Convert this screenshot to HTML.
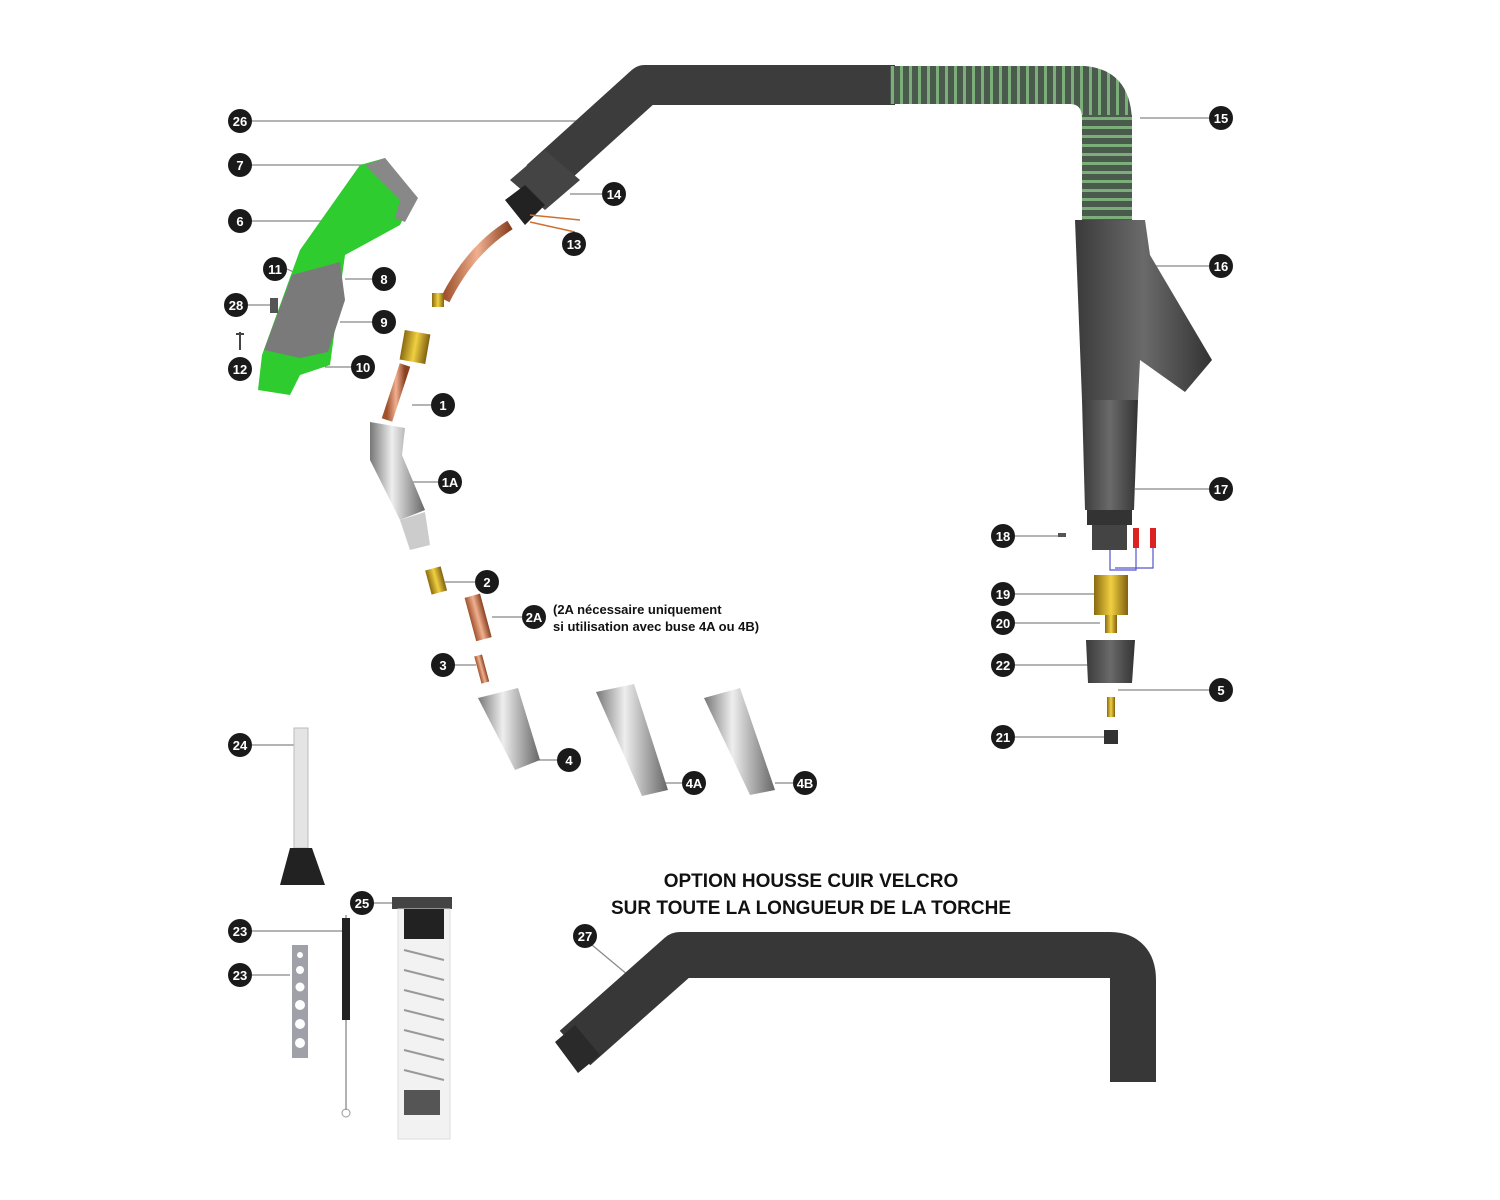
<!DOCTYPE html>
<html><head><meta charset="utf-8"><style>
html,body{margin:0;padding:0;background:#fff;}
svg{display:block;}
.b circle{fill:#1a1a1a;}
.b text{fill:#fff;font-family:"Liberation Sans",sans-serif;font-weight:bold;font-size:13px;text-anchor:middle;}
.l{stroke:#888;stroke-width:1.2;fill:none;}
</style></head><body>
<svg width="1500" height="1200" viewBox="0 0 1500 1200" xmlns="http://www.w3.org/2000/svg">
<defs>
<linearGradient id="met" x1="0" x2="1"><stop offset="0" stop-color="#777"/><stop offset=".4" stop-color="#eee"/><stop offset="1" stop-color="#666"/></linearGradient>
<linearGradient id="cop" x1="0" x2="1"><stop offset="0" stop-color="#a0522d"/><stop offset=".5" stop-color="#f0b090"/><stop offset="1" stop-color="#8a4020"/></linearGradient>
<linearGradient id="brass" x1="0" x2="1"><stop offset="0" stop-color="#8a6a10"/><stop offset=".5" stop-color="#f0d040"/><stop offset="1" stop-color="#806010"/></linearGradient>
<linearGradient id="gry" x1="0" x2="1"><stop offset="0" stop-color="#3a3a3a"/><stop offset=".5" stop-color="#6a6a6a"/><stop offset="1" stop-color="#333"/></linearGradient>
<pattern id="corr" width="9" height="9" patternUnits="userSpaceOnUse"><rect width="9" height="9" fill="#4a5a4c"/><rect width="3" height="9" fill="#7cae7a"/></pattern>
<pattern id="corrv" width="9" height="9" patternUnits="userSpaceOnUse"><rect width="9" height="9" fill="#4a5a4c"/><rect width="9" height="3" fill="#7cae7a"/></pattern>
</defs>

<g class="l">
<line x1="252" y1="121" x2="585" y2="121"/><line x1="252" y1="165" x2="370" y2="165"/>
<line x1="252" y1="221" x2="330" y2="221"/><line x1="287" y1="269" x2="300" y2="275"/>
<line x1="372" y1="279" x2="345" y2="279"/><line x1="248" y1="305" x2="272" y2="305"/>
<line x1="372" y1="322" x2="340" y2="322"/><line x1="351" y1="367" x2="325" y2="367"/>
<line x1="431" y1="405" x2="412" y2="405"/><line x1="438" y1="482" x2="405" y2="482"/>
<line x1="475" y1="582" x2="445" y2="582"/><line x1="522" y1="617" x2="492" y2="617"/>
<line x1="455" y1="665" x2="476" y2="665"/><line x1="557" y1="760" x2="538" y2="760"/>
<line x1="682" y1="783" x2="665" y2="783"/><line x1="793" y1="783" x2="775" y2="783"/>
<line x1="602" y1="194" x2="570" y2="194"/>
<line x1="1209" y1="118" x2="1140" y2="118"/><line x1="1209" y1="266" x2="1150" y2="266"/>
<line x1="1209" y1="489" x2="1135" y2="489"/><line x1="1015" y1="536" x2="1065" y2="536"/>
<line x1="1015" y1="594" x2="1095" y2="594"/><line x1="1015" y1="623" x2="1100" y2="623"/>
<line x1="1015" y1="665" x2="1088" y2="665"/><line x1="1209" y1="690" x2="1118" y2="690"/>
<line x1="1015" y1="737" x2="1105" y2="737"/><line x1="252" y1="745" x2="295" y2="745"/>
<line x1="374" y1="903" x2="395" y2="903"/><line x1="252" y1="931" x2="345" y2="931"/>
<line x1="252" y1="975" x2="290" y2="975"/><line x1="592" y1="945" x2="628" y2="975"/>
</g>

<path d="M540 180 L645 85 L895 85" fill="none" stroke="#3c3c3c" stroke-width="40" stroke-linejoin="round"/>
<path d="M890 66 L1085 66 Q1130 70 1132 120 L1132 220 L1082 220 L1082 118 Q1082 104 1070 104 L890 104 Z" fill="url(#corr)"/>
<rect x="1082" y="115" width="50" height="105" fill="url(#corrv)"/>
<path d="M510 180 L545 150 L580 180 L545 210 Z" fill="#444"/>
<path d="M505 200 L525 185 L545 205 L525 225 Z" fill="#222"/>
<path d="M530 215 L580 220 M530 222 L575 232" stroke="#d07030" stroke-width="1.5" fill="none"/>
<path d="M510 225 Q470 250 445 300" stroke="url(#cop)" stroke-width="10" fill="none"/>
<rect x="432" y="293" width="12" height="14" fill="url(#brass)"/>

<path d="M1075 220 L1145 220 L1150 255 L1212 360 L1185 392 L1140 360 L1138 400 L1082 400 Z" fill="url(#gry)"/>
<path d="M1082 400 L1138 400 L1134 510 L1085 510 Z" fill="url(#gry)"/>
<rect x="1087" y="510" width="45" height="15" fill="#333"/>
<rect x="1092" y="525" width="35" height="25" fill="#444"/>
<rect x="1133" y="528" width="6" height="20" fill="#d22"/><rect x="1150" y="528" width="6" height="20" fill="#d22"/>
<path d="M1110 550 L1110 570 L1136 570 L1136 548 M1115 568 L1153 568 L1153 548" stroke="#55c" stroke-width="1.2" fill="none"/>
<rect x="1094" y="575" width="34" height="40" fill="url(#brass)"/>
<rect x="1105" y="615" width="12" height="18" fill="url(#brass)"/>
<path d="M1086 640 L1135 640 L1132 683 L1088 683 Z" fill="url(#gry)"/>
<rect x="1107" y="697" width="8" height="20" fill="url(#brass)"/>
<rect x="1104" y="730" width="14" height="14" fill="#333"/>
<rect x="1058" y="533" width="8" height="4" fill="#555"/>

<path d="M360 165 L385 158 L415 195 L400 225 L345 255 L330 365 L300 375 L290 395 L258 390 L262 355 L300 250 Z" fill="#2ecc2e"/>
<path d="M365 165 L385 158 L418 198 L405 222 L395 218 L400 200 Z" fill="#888"/>
<path d="M292 275 L340 262 L345 300 L328 352 L300 358 L264 350 Z" fill="#7a7a7a"/>
<rect x="270" y="298" width="8" height="15" fill="#555"/>
<path d="M240 332 L240 350 M236 334 L244 334" stroke="#444" stroke-width="2"/>

<rect x="402" y="332" width="26" height="30" fill="url(#brass)" transform="rotate(10 415 347)"/>
<path d="M405 365 L387 420" stroke="url(#cop)" stroke-width="11" fill="none"/>
<path d="M370 422 L405 428 L402 455 L425 510 L400 520 L370 460 Z" fill="url(#met)"/>
<path d="M400 520 L425 512 L430 545 L410 550 Z" fill="#ccc"/>
<rect x="428" y="568" width="16" height="25" fill="url(#brass)" transform="rotate(-15 436 580)"/>
<rect x="470" y="595" width="16" height="45" fill="url(#cop)" transform="rotate(-15 478 617)"/>
<rect x="478" y="655" width="8" height="28" fill="url(#cop)" transform="rotate(-15 482 670)"/>
<g fill="url(#met)">
<path d="M478 698 L518 688 L540 760 L515 770 Z"/>
<path d="M596 692 L634 684 L668 790 L642 796 Z"/>
<path d="M704 698 L740 688 L775 790 L750 795 Z"/>
</g>

<rect x="294" y="728" width="14" height="120" fill="#e4e4e4" stroke="#bbb"/>
<path d="M290 848 L312 848 L325 885 L280 885 Z" fill="#222"/>
<path d="M292 945 L308 945 L308 1058 L292 1058 Z" fill="#a0a0a8"/>
<g fill="#fff"><circle cx="300" cy="955" r="3"/><circle cx="300" cy="970" r="4"/><circle cx="300" cy="987" r="4.5"/><circle cx="300" cy="1005" r="5"/><circle cx="300" cy="1024" r="5"/><circle cx="300" cy="1043" r="5"/></g>
<path d="M346 915 L346 1110" stroke="#999" stroke-width="1.5"/>
<path d="M346 918 L346 1020" stroke="#222" stroke-width="8"/>
<circle cx="346" cy="1113" r="4" fill="none" stroke="#999"/>
<rect x="392" y="897" width="60" height="12" fill="#444"/>
<rect x="398" y="909" width="52" height="230" fill="#f2f2f2" stroke="#ddd"/>
<rect x="404" y="909" width="40" height="30" fill="#222"/>
<path d="M404 950 L444 960 M404 970 L444 980 M404 990 L444 1000 M404 1010 L444 1020 M404 1030 L444 1040 M404 1050 L444 1060 M404 1070 L444 1080" stroke="#999" stroke-width="2"/>
<rect x="404" y="1090" width="36" height="25" fill="#555"/>

<path d="M575 1048 L680 955 L1110 955 Q1133 955 1133 980 L1133 1082" fill="none" stroke="#373737" stroke-width="46" stroke-linejoin="round"/>
<path d="M555 1042 L575 1025 L600 1055 L578 1073 Z" fill="#2a2a2a"/>

<g font-family="'Liberation Sans',sans-serif" fill="#111">
<text x="553" y="614" font-size="13" font-weight="600">(2A nécessaire uniquement</text>
<text x="553" y="631" font-size="13" font-weight="600">si utilisation avec buse 4A ou 4B)</text>
<text x="811" y="887" font-size="19" font-weight="bold" text-anchor="middle">OPTION HOUSSE CUIR VELCRO</text>
<text x="811" y="914" font-size="19" font-weight="bold" text-anchor="middle">SUR TOUTE LA LONGUEUR DE LA TORCHE</text>
</g>

<g class="b">
<circle cx="240" cy="121" r="12"/><text x="240" y="126">26</text>
<circle cx="240" cy="165" r="12"/><text x="240" y="170">7</text>
<circle cx="240" cy="221" r="12"/><text x="240" y="226">6</text>
<circle cx="275" cy="269" r="12"/><text x="275" y="274">11</text>
<circle cx="384" cy="279" r="12"/><text x="384" y="284">8</text>
<circle cx="236" cy="305" r="12"/><text x="236" y="310">28</text>
<circle cx="384" cy="322" r="12"/><text x="384" y="327">9</text>
<circle cx="240" cy="369" r="12"/><text x="240" y="374">12</text>
<circle cx="363" cy="367" r="12"/><text x="363" y="372">10</text>
<circle cx="443" cy="405" r="12"/><text x="443" y="410">1</text>
<circle cx="450" cy="482" r="12"/><text x="450" y="487">1A</text>
<circle cx="487" cy="582" r="12"/><text x="487" y="587">2</text>
<circle cx="534" cy="617" r="12"/><text x="534" y="622">2A</text>
<circle cx="443" cy="665" r="12"/><text x="443" y="670">3</text>
<circle cx="569" cy="760" r="12"/><text x="569" y="765">4</text>
<circle cx="694" cy="783" r="12"/><text x="694" y="788">4A</text>
<circle cx="805" cy="783" r="12"/><text x="805" y="788">4B</text>
<circle cx="614" cy="194" r="12"/><text x="614" y="199">14</text>
<circle cx="574" cy="244" r="12"/><text x="574" y="249">13</text>
<circle cx="1221" cy="118" r="12"/><text x="1221" y="123">15</text>
<circle cx="1221" cy="266" r="12"/><text x="1221" y="271">16</text>
<circle cx="1221" cy="489" r="12"/><text x="1221" y="494">17</text>
<circle cx="1003" cy="536" r="12"/><text x="1003" y="541">18</text>
<circle cx="1003" cy="594" r="12"/><text x="1003" y="599">19</text>
<circle cx="1003" cy="623" r="12"/><text x="1003" y="628">20</text>
<circle cx="1003" cy="665" r="12"/><text x="1003" y="670">22</text>
<circle cx="1221" cy="690" r="12"/><text x="1221" y="695">5</text>
<circle cx="1003" cy="737" r="12"/><text x="1003" y="742">21</text>
<circle cx="240" cy="745" r="12"/><text x="240" y="750">24</text>
<circle cx="362" cy="903" r="12"/><text x="362" y="908">25</text>
<circle cx="240" cy="931" r="12"/><text x="240" y="936">23</text>
<circle cx="240" cy="975" r="12"/><text x="240" y="980">23</text>
<circle cx="585" cy="936" r="12"/><text x="585" y="941">27</text>
</g>
</svg>
</body></html>
